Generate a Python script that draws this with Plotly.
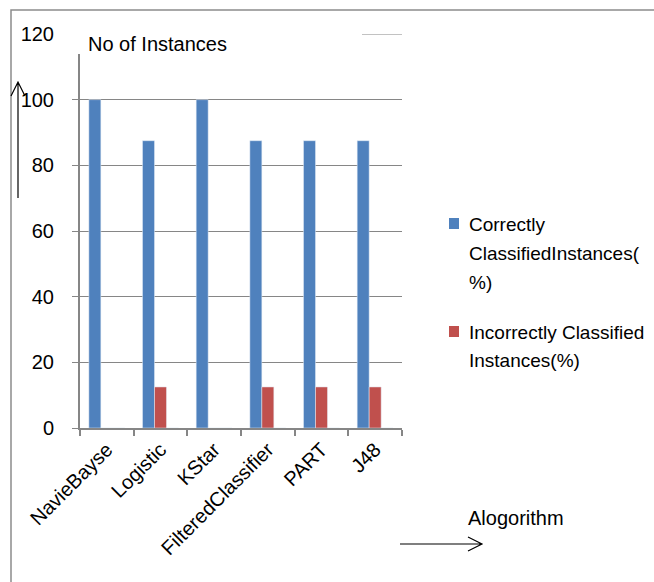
import plotly.graph_objects as go

categories = ["NavieBayse", "Logistic", "KStar", "FilteredClassifier", "PART", "J48"]
correct = [100, 87.5, 100, 87.5, 87.5, 87.5]
incorrect = [0, 12.5, 0, 12.5, 12.5, 12.5]
third = [0, 0, 0, 0, 0, 0]
y_ticks = [0, 20, 40, 60, 80, 100, 120]

W, H = 654, 582
L, R, T, B = 80, 402, 34, 428
FONT = "Liberation Sans"
FS = 20


def px(x):
    return (x - L) / (R - L)


def py(y):
    return (B - y) / (B - T)


fig = go.Figure()
fig.add_trace(go.Bar(x=categories, y=correct, marker_color="#4F81BD",
                     name="Correctly ClassifiedInstances(%)", showlegend=False))
fig.add_trace(go.Bar(x=categories, y=incorrect, marker_color="#C0504D",
                     name="Incorrectly Classified Instances(%)", showlegend=False))
fig.add_trace(go.Bar(x=categories, y=third, marker_color="#9BBB59",
                     showlegend=False, hoverinfo="skip"))

fig.update_layout(
    width=W, height=H,
    margin=dict(l=L, r=W - R, t=T, b=H - B, pad=0),
    paper_bgcolor="white", plot_bgcolor="white",
    barmode="group", bargap=0.33, bargroupgap=0,
    font=dict(family=FONT, size=FS, color="black"),
)
fig.update_xaxes(
    type="category", tickson="boundaries", ticks="outside", ticklen=6,
    tickcolor="#868686", tickwidth=2, showline=True, linecolor="#868686",
    linewidth=2, tickangle=-45, showgrid=False,
    tickfont=dict(family=FONT, size=FS, color="black"),
)
fig.update_yaxes(
    range=[0, 120], tickvals=y_ticks, ticks="outside", ticklen=6,
    tickcolor="#868686", tickwidth=1, showline=True, linecolor="#868686",
    linewidth=2, showgrid=True, gridcolor="#868686", gridwidth=1,
    zeroline=False, ticklabelstandoff=14,
    tickfont=dict(family=FONT, size=FS, color="black"),
)

shapes = []
# white box behind title covering part of top gridline & axis
shapes.append(dict(type="rect", xref="paper", yref="paper",
                   x0=px(70), x1=px(360), y0=py(54), y1=py(26),
                   fillcolor="white", line=dict(width=0), layer="above"))
# visible end of the top (120) gridline
shapes.append(dict(type="line", xref="paper", yref="y",
                   x0=px(362), x1=1, y0=120, y1=120,
                   line=dict(color="#868686", width=1), layer="above"))
# outer border
shapes.append(dict(type="rect", xref="paper", yref="paper",
                   x0=px(11), x1=px(670), y0=py(600), y1=py(10),
                   line=dict(color="#8c8c8c", width=1.5), layer="above"))
# vertical arrow
shapes.append(dict(type="path", xref="paper", yref="paper",
                   path=f"M {px(18)} {py(198)} L {px(18)} {py(82)} "
                        f"M {px(11)} {py(96)} L {px(18)} {py(82)} L {px(25)} {py(96)}",
                   line=dict(color="black", width=1.2), layer="above"))
# horizontal arrow
shapes.append(dict(type="path", xref="paper", yref="paper",
                   path=f"M {px(400)} {py(544)} L {px(482)} {py(544)} "
                        f"M {px(468)} {py(537)} L {px(482)} {py(544)} L {px(468)} {py(551)}",
                   line=dict(color="black", width=1.2), layer="above"))
# legend squares
shapes.append(dict(type="rect", xref="paper", yref="paper",
                   x0=px(449), x1=px(459), y0=py(229), y1=py(218),
                   fillcolor="#4F81BD", line=dict(width=0)))
shapes.append(dict(type="rect", xref="paper", yref="paper",
                   x0=px(449), x1=px(459), y0=py(337), y1=py(326),
                   fillcolor="#C0504D", line=dict(width=0)))
fig.update_layout(shapes=shapes)


def txt(t, x, y, anchor="left", size=FS):
    fig.add_annotation(text=t, xref="paper", yref="paper", x=px(x), y=py(y),
                       xanchor=anchor, yanchor="middle", showarrow=False,
                       font=dict(family=FONT, size=size, color="black"))


txt("No of Instances", 86, 44)
txt("Correctly", 467, 224, size=19)
txt("ClassifiedInstances(", 467, 253, size=19)
txt("%)", 467, 282, size=19)
txt("Incorrectly Classified", 467, 332, size=19)
txt("Instances(%)", 467, 360, size=19)
txt("Alogorithm", 466, 518)

fig.write_html("out.html", config={"displayModeBar": False},
               post_script="document.body.style.margin='0';document.body.style.overflow='hidden';")
